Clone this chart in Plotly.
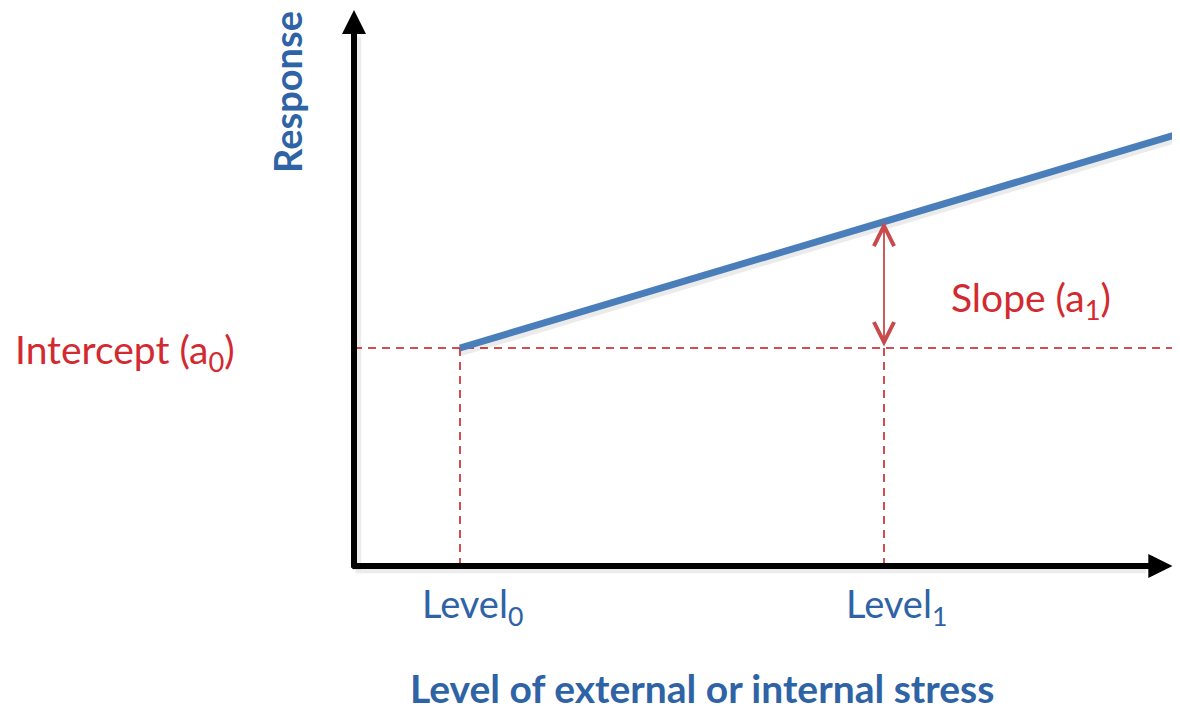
import plotly.graph_objects as go

# ---- conceptual data (model: response = a0 + a1 * level) ----
level_x = [1.0, 5.0]            # Level0, Level1 positions on stress axis
level_labels = ["Level<sub>0</sub>", "Level<sub>1</sub>"]
response_x = [1.0, 5.0, 7.8]    # stress levels along the response line
response_y = [2.0, 3.16, 3.97]  # response values
intercept_a0 = 2.0
axis_x_end = 7.72
axis_y_end = 5.10

x_title = "Level of external or internal stress"
y_title = "Response"
intercept_label = "Intercept (a<sub>0</sub>)"
slope_label = "Slope (a<sub>1</sub>)"

BLUE_LINE = "#4A7EBB"
BLUE_TEXT = "#2E63A6"
RED_TEXT = "#D22A30"
RED_DASH = "#D05050"
RED_ARROW = "#C94A4A"
FONT = "Lato"

# page offset (browser body margin) compensation
OFF = 8
W, H = 1180, 706
X0_PX, Y0_PX, XS, YS = 354, 566, 106, 109


def px(p):
    return (p - OFF) / W


def py(p):
    return 1 - (p - OFF) / H


fig = go.Figure()

# dashed guide lines
fig.add_trace(go.Scatter(x=[0, response_x[-1] + 0.2], y=[intercept_a0, intercept_a0], mode="lines",
                         line=dict(color=RED_DASH, width=2, dash="8px,6px"), hoverinfo="skip"))
for lx in level_x:
    fig.add_trace(go.Scatter(x=[lx, lx], y=[0, intercept_a0], mode="lines",
                             line=dict(color=RED_DASH, width=2, dash="8px,6px"), hoverinfo="skip"))

# soft shadow of response line
fig.add_trace(go.Scatter(x=[response_x[0], response_x[-1] + 0.2], y=[response_y[0] - 0.03, response_y[-1] - 0.03 + 0.06],
                         mode="lines", line=dict(color="rgba(0,0,0,0.08)", width=10), hoverinfo="skip"))
# response line
fig.add_trace(go.Scatter(x=[response_x[0], response_x[-1] + 0.2],
                         y=[response_y[0], response_y[-1] + (response_y[-1] - response_y[1]) / (response_x[-1] - response_x[1]) * 0.2],
                         mode="lines", line=dict(color=BLUE_LINE, width=7), hoverinfo="skip"))

annotations = []
# axis shadows
annotations.append(dict(x=0.03, y=axis_y_end - 0.25, ax=0.03, ay=-0.05, xref="x", yref="y", axref="x", ayref="y",
                        text="", showarrow=True, arrowhead=0, arrowwidth=8, arrowcolor="rgba(0,0,0,0.07)"))
annotations.append(dict(x=axis_x_end - 0.25, y=-0.03, ax=0.0, ay=-0.03, xref="x", yref="y", axref="x", ayref="y",
                        text="", showarrow=True, arrowhead=0, arrowwidth=8, arrowcolor="rgba(0,0,0,0.07)"))
# axes with arrowheads
annotations.append(dict(x=0, y=axis_y_end, ax=0, ay=-0.03, xref="x", yref="y", axref="x", ayref="y",
                        text="", showarrow=True, arrowhead=2, arrowsize=0.8, arrowwidth=6, arrowcolor="black"))
annotations.append(dict(x=axis_x_end, y=0, ax=-0.03, ay=0, xref="x", yref="y", axref="x", ayref="y",
                        text="", showarrow=True, arrowhead=2, arrowsize=0.8, arrowwidth=6, arrowcolor="black"))
# slope double arrow
annotations.append(dict(x=level_x[1], y=response_y[1], ax=level_x[1], ay=intercept_a0,
                        xref="x", yref="y", axref="x", ayref="y", text="", showarrow=True,
                        arrowhead=5, startarrowhead=5, arrowside="end+start", arrowsize=2.2,
                        startarrowsize=2.2, arrowwidth=1.8, arrowcolor=RED_ARROW))
# labels
annotations.append(dict(x=px(125), y=py(352), xref="paper", yref="paper", text=intercept_label, showarrow=False,
                        xanchor="center", yanchor="middle", font=dict(family=FONT, size=39, color=RED_TEXT)))
annotations.append(dict(x=px(1031), y=py(300), xref="paper", yref="paper", text=slope_label, showarrow=False,
                        xanchor="center", yanchor="middle", font=dict(family=FONT, size=39, color=RED_TEXT)))
for lx, lab in zip(level_x, level_labels):
    annotations.append(dict(x=px(X0_PX + lx * XS + 12), y=py(606), xref="paper", yref="paper", text=lab,
                            showarrow=False, xanchor="center", yanchor="middle",
                            font=dict(family=FONT, size=38, color=BLUE_TEXT)))
annotations.append(dict(x=px(702), y=py(688), xref="paper", yref="paper", text="<b>" + x_title + "</b>",
                        showarrow=False, xanchor="center", yanchor="middle",
                        font=dict(family=FONT, size=39, color=BLUE_TEXT)))
annotations.append(dict(x=px(287), y=py(92), xref="paper", yref="paper", text="<b>" + y_title + "</b>",
                        showarrow=False, textangle=-90, xanchor="center", yanchor="middle",
                        font=dict(family=FONT, size=38, color=BLUE_TEXT)))

fig.update_layout(
    width=W, height=H,
    margin=dict(l=0, r=0, t=0, b=0),
    paper_bgcolor="white", plot_bgcolor="white",
    showlegend=False,
    annotations=annotations,
    xaxis=dict(range=[(OFF - X0_PX) / XS, (W + OFF - X0_PX) / XS], visible=False, fixedrange=True),
    yaxis=dict(range=[(Y0_PX - H - OFF) / YS, (Y0_PX - OFF) / YS], visible=False, fixedrange=True),
)

fig.write_html("out.html")
